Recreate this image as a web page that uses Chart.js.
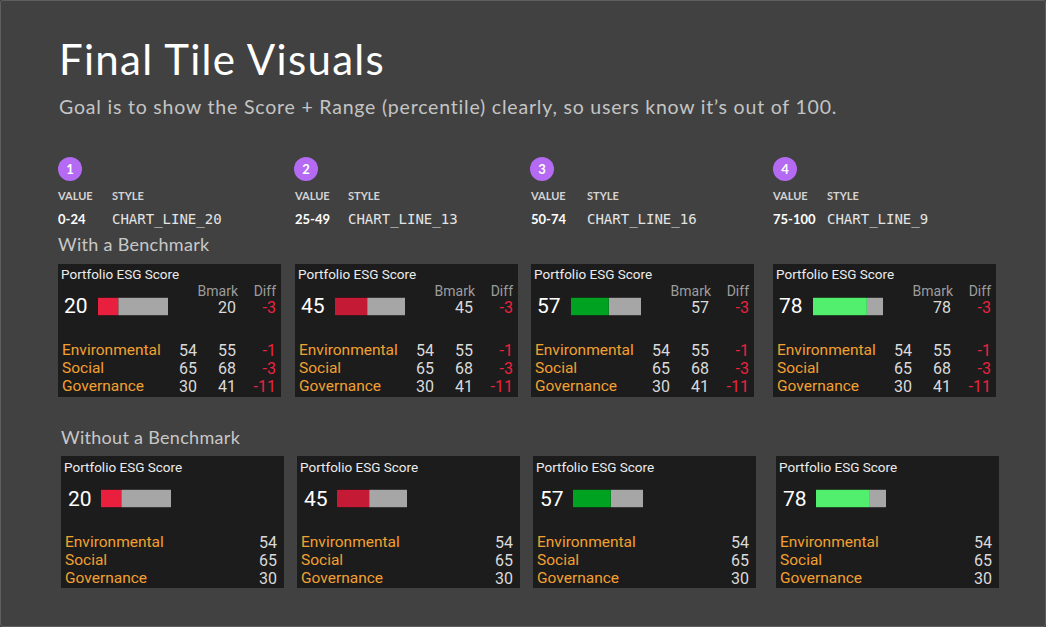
<!DOCTYPE html>
<html>
<head>
<meta charset="utf-8">
<script src="https://cdn.jsdelivr.net/npm/chart.js@4.4.0/dist/chart.umd.min.js"></script>
<style>
  html, body { margin: 0; padding: 0; background: #414141; }
  #page {
    position: relative; width: 1044px; height: 625px; overflow: hidden;
    background: #414141; border: 1px solid #5e5e5e; border-radius: 3px;
  }
  .t { position: absolute; white-space: nowrap; line-height: 1; }
  .lato { font-family: Lato, "Open Sans", sans-serif; }
  .tf { font-family: Roboto, "Noto Sans", sans-serif; }
  .mono { font-family: "DejaVu Sans Mono", "Liberation Mono", monospace; }
  .tile { position: absolute; width: 223px; height: 133px; background: #1c1c1c; }
  .circle {
    position: absolute; width: 24px; height: 24px; border-radius: 50%;
    background: #b46af2; color: #fff; font: bold 13px Lato, sans-serif;
    text-align: center; line-height: 24px;
  }
  canvas { position: absolute; }
</style>
</head>
<body>
<div id="page"></div>
<script>
// tile data
const ranges = ['0-24', '25-49', '50-74', '75-100'];
const styleNames = ['CHART_LINE_20', 'CHART_LINE_13', 'CHART_LINE_16', 'CHART_LINE_9'];
const scores = [20, 45, 57, 78];
const bmarkScores = [20, 45, 57, 78];
const scoreDiffs = [-3, -3, -3, -3];
const barFill = [29, 46, 54, 77];   // filled part of each gauge
const barColors = ['#e8203e', '#c41a36', '#00a321', '#52ee6e'];

const pillars = ['Environmental', 'Social', 'Governance'];
const pillarScores = [54, 65, 30];
const pillarBmark = [55, 68, 41];
const pillarDiff = [-1, -3, -11];

// layout
const colX = [57, 294, 530, 772];
const styleX = [111, 347, 586, 826];
const circleX = [57, 293, 529, 772];
const topTileX = [57, 294, 530, 772];
const botTileX = [60, 296, 532, 775];
const topTileY = 263, botTileY = 455;

const page = document.getElementById('page');

// put text so that its baseline sits at y (approx 0.88em below top with line-height 1)
function txt(parent, x, base, text, size, cls, color, extra) {
    let d = document.createElement('div');
    d.className = 't ' + cls;
    d.textContent = text;
    d.style.fontSize = size + 'px';
    d.style.top = (base - size * 0.88) + 'px';
    d.style.color = color;
    if (x < 0) d.style.right = (-x) + 'px';
    else d.style.left = x + 'px';
    if (extra) Object.assign(d.style, extra);
    parent.appendChild(d);
    return d;
}

txt(page, 58, 74, 'Final Tile Visuals', 42, 'lato', '#ffffff', { letterSpacing: '1.3px' });
txt(page, 58, 113, 'Goal is to show the Score + Range (percentile) clearly, so users know it\u2019s out of 100.', 19.5, 'lato', '#c4c4c4', { letterSpacing: '0.8px' });
txt(page, 57, 250, 'With a Benchmark', 18, 'lato', '#c8c8c8', { letterSpacing: '0.3px' });
txt(page, 60, 443, 'Without a Benchmark', 18, 'lato', '#c8c8c8', { letterSpacing: '0.3px' });

function gauge(parent, x, y, i) {
    let c = document.createElement('canvas');
    c.width = 70; c.height = 19;
    c.style.left = x + 'px'; c.style.top = y + 'px';
    c.style.width = '70px'; c.style.height = '19px';
    parent.appendChild(c);
    new Chart(c, {
        type: 'bar',
        data: {
            labels: ['Score'],
            datasets: [
                { data: [barFill[i]], backgroundColor: barColors[i] },
                { data: [100 - barFill[i]], backgroundColor: '#a6a6a6' }
            ]
        },
        options: {
            indexAxis: 'y',
            responsive: false,
            animation: false,
            events: [],
            layout: { padding: 0 },
            datasets: { bar: { barPercentage: 1, categoryPercentage: 1,
                borderWidth: { top: 1, bottom: 1, left: 0, right: 0 },
                borderColor: 'rgba(0,0,0,0.3)', borderSkipped: false } },
            plugins: { legend: { display: false }, tooltip: { enabled: false } },
            scales: {
                x: { stacked: true, min: 0, max: 100, display: false },
                y: { stacked: true, display: false }
            }
        }
    });
}

const orange = '#f2a031', red = '#ea2340', light = '#dadada', grey = '#9c9c9c';

for (let i = 0; i < 4; i++) {
    // header
    let c = document.createElement('div');
    c.className = 'circle';
    c.style.left = circleX[i] + 'px'; c.style.top = '156px';
    c.textContent = i + 1;
    page.appendChild(c);
    txt(page, colX[i], 199, 'VALUE', 11, 'lato', '#d4d4d4', { fontWeight: 'bold' });
    txt(page, styleX[i], 199, 'STYLE', 11, 'lato', '#d4d4d4', { fontWeight: 'bold' });
    txt(page, colX[i], 223, ranges[i], 13, 'lato', '#ffffff', { fontWeight: 'bold' });
    txt(page, styleX[i], 223, styleNames[i], 14, 'mono', '#e4e4e4');

    // tile with benchmark
    let t = document.createElement('div');
    t.className = 'tile';
    t.style.left = topTileX[i] + 'px'; t.style.top = topTileY + 'px';
    page.appendChild(t);
    txt(t, 3, 16, 'Portfolio ESG Score', 13.5, 'tf', '#ececec');
    txt(t, -43, 32, 'Bmark', 14, 'tf', grey);
    txt(t, -5, 32, 'Diff', 14, 'tf', grey);
    txt(t, 6, 50, String(scores[i]), 21, 'tf', '#ffffff');
    gauge(t, 40, 33, i);
    txt(t, -45, 50, String(bmarkScores[i]), 16, 'tf', light);
    txt(t, -5, 50, String(scoreDiffs[i]), 16, 'tf', red);
    const rowBase = [93, 111, 129];
    for (let r = 0; r < pillars.length; r++) {
        txt(t, 4, rowBase[r], pillars[r], 15.5, 'tf', orange);
        txt(t, -84, rowBase[r], String(pillarScores[r]), 16, 'tf', light);
        txt(t, -45, rowBase[r], String(pillarBmark[r]), 16, 'tf', light);
        txt(t, -5, rowBase[r], String(pillarDiff[r]), 16, 'tf', red);
    }

    // tile without benchmark
    let b = document.createElement('div');
    b.className = 'tile';
    b.style.left = botTileX[i] + 'px'; b.style.top = botTileY + 'px';
    b.style.height = '132px';
    page.appendChild(b);
    txt(b, 3, 17, 'Portfolio ESG Score', 13.5, 'tf', '#ececec');
    txt(b, 7, 51, String(scores[i]), 21, 'tf', '#ffffff');
    gauge(b, 40, 33, i);
    const rowBase2 = [93, 111, 129];
    for (let r = 0; r < pillars.length; r++) {
        txt(b, 4, rowBase2[r], pillars[r], 15.5, 'tf', orange);
        txt(b, -7, rowBase2[r], String(pillarScores[r]), 16, 'tf', light);
    }
}
</script>
</body>
</html>
